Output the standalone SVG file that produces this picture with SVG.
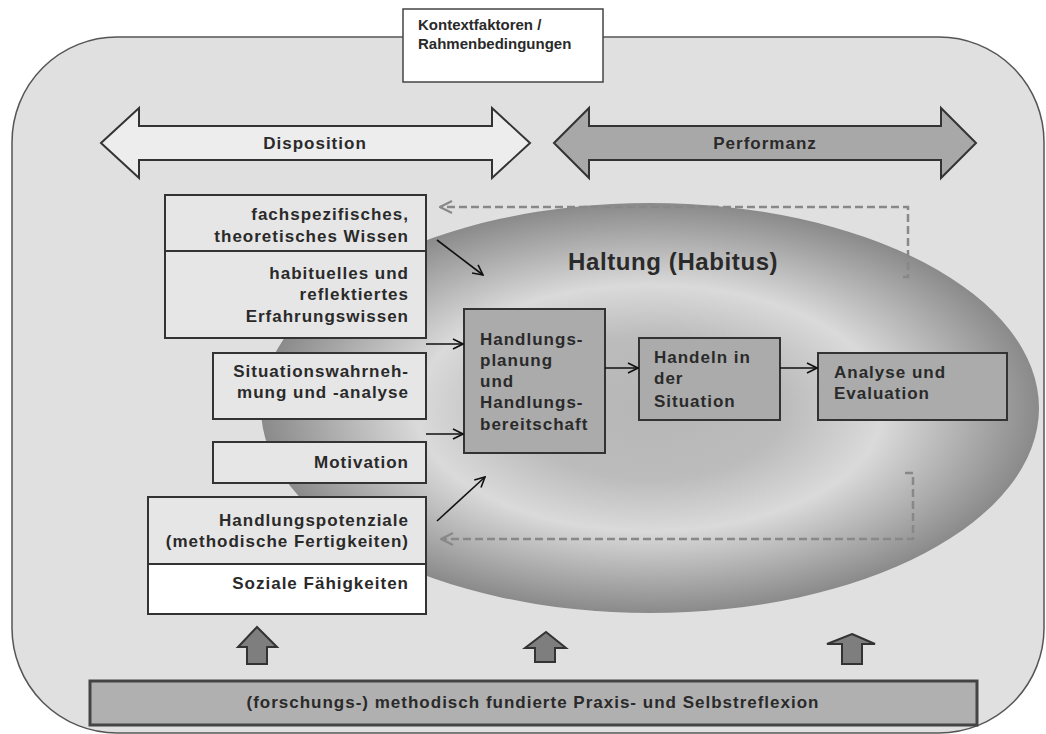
<svg xmlns="http://www.w3.org/2000/svg" width="1046" height="734" viewBox="0 0 1046 734">
<defs>
<radialGradient id="haltung" cx="0.5" cy="0.5" r="0.5">
<stop offset="0" stop-color="#b6b6b6"/>
<stop offset="0.35" stop-color="#bcbcbc"/>
<stop offset="0.6" stop-color="#dadada"/>
<stop offset="0.78" stop-color="#b6b6b6"/>
<stop offset="1" stop-color="#8a8a8a"/>
</radialGradient>
<marker id="chev" viewBox="0 0 12 12" refX="11" refY="6" markerWidth="12" markerHeight="12" markerUnits="userSpaceOnUse" orient="auto">
<path d="M1,1 L11,6 L1,11" fill="none" stroke="#111" stroke-width="1.6"/>
</marker>
<marker id="chevGray" viewBox="0 0 14 14" refX="13" refY="7" markerWidth="14" markerHeight="14" markerUnits="userSpaceOnUse" orient="auto">
<path d="M1,1 L13,7 L1,13" fill="none" stroke="#888" stroke-width="2.2"/>
</marker>
</defs>
<style>
text{font-family:"Liberation Sans",Arial,sans-serif;font-weight:bold;fill:#2a2a2a;}
.lbl{font-size:17px;letter-spacing:1px;}
.box{fill:#e6e6e6;stroke:#333;stroke-width:2;}
.dbox{fill:#ababab;stroke:#333;stroke-width:2;}
.conn{stroke:#111;stroke-width:1.6;fill:none;marker-end:url(#chev);}
.dash{stroke:#888;stroke-width:2.5;fill:none;stroke-dasharray:8 4;}
.up{fill:#7e7e7e;stroke:#333;stroke-width:2;}
</style>

<g id="frame">
<rect x="12" y="37" width="1032" height="696" rx="105" ry="105" fill="#e0e0e0" stroke="#555" stroke-width="1.5"/>
</g>

<g id="kontext">
<rect x="403" y="9" width="200" height="73" fill="#ffffff" stroke="#444" stroke-width="1.5"/>
<text x="418" y="30" font-size="15">Kontextfaktoren /</text>
<text x="418" y="49" font-size="15">Rahmenbedingungen</text>
</g>

<g id="disposition">
<polygon points="101,143 139,108 139,126 492,126 492,108 530,143 492,178 492,160 139,160 139,178" fill="#ededed" stroke="#333" stroke-width="2"/>
<text class="lbl" x="315" y="149" text-anchor="middle">Disposition</text>
</g>

<g id="performanz">
<polygon points="554,143 589,108 589,126 941,126 941,108 976,143 941,178 941,160 589,160 589,178" fill="#a8a8a8" stroke="#333" stroke-width="2"/>
<text class="lbl" x="765" y="149" text-anchor="middle">Performanz</text>
</g>

<g id="haltung">
<ellipse cx="650" cy="408" rx="389" ry="205" fill="url(#haltung)"/>
<text x="568" y="270" font-size="24" letter-spacing="0.6" fill="#333">Haltung (Habitus)</text>
</g>

<g id="fachwissen">
<rect class="box" x="165" y="195" width="261" height="56"/>
<text class="lbl" x="409" y="220" text-anchor="end">fachspezifisches,</text>
<text class="lbl" x="409" y="242" text-anchor="end">theoretisches Wissen</text>
</g>

<g id="erfahrungswissen">
<rect class="box" x="165" y="251" width="261" height="87"/>
<text class="lbl" x="409" y="279" text-anchor="end">habituelles und</text>
<text class="lbl" x="409" y="300" text-anchor="end">reflektiertes</text>
<text class="lbl" x="409" y="322" text-anchor="end">Erfahrungswissen</text>
</g>

<g id="situation">
<rect class="box" x="213" y="353" width="213" height="66"/>
<text class="lbl" x="409" y="377" text-anchor="end">Situationswahrneh-</text>
<text class="lbl" x="409" y="398" text-anchor="end">mung und -analyse</text>
</g>

<g id="motivation">
<rect class="box" x="213" y="442" width="213" height="41"/>
<text class="lbl" x="409" y="468" text-anchor="end">Motivation</text>
</g>

<g id="potenziale">
<rect class="box" x="148" y="497" width="278" height="67"/>
<text class="lbl" x="409" y="526" text-anchor="end">Handlungspotenziale</text>
<text class="lbl" x="409" y="547" text-anchor="end">(methodische Fertigkeiten)</text>
</g>

<g id="sozial">
<rect x="148" y="564" width="278" height="50" fill="#ffffff" stroke="#333" stroke-width="2"/>
<text class="lbl" x="409" y="589" text-anchor="end">Soziale Fähigkeiten</text>
</g>

<g id="planung">
<rect class="dbox" x="464" y="309" width="141" height="144"/>
<text class="lbl" x="480" y="345">Handlungs-</text>
<text class="lbl" x="480" y="366">planung</text>
<text class="lbl" x="480" y="387">und</text>
<text class="lbl" x="480" y="408">Handlungs-</text>
<text class="lbl" x="480" y="430">bereitschaft</text>
</g>

<g id="handeln">
<rect class="dbox" x="639" y="338" width="141" height="82"/>
<text class="lbl" x="654" y="363">Handeln in</text>
<text class="lbl" x="654" y="384">der</text>
<text class="lbl" x="654" y="407">Situation</text>
</g>

<g id="analyse">
<rect class="dbox" x="818" y="353" width="189" height="67"/>
<text class="lbl" x="834" y="378">Analyse und</text>
<text class="lbl" x="834" y="399">Evaluation</text>
</g>

<g id="reflexion">
<rect x="90" y="681" width="887" height="44" fill="#b0b0b0" stroke="#444" stroke-width="3"/>
<text class="lbl" x="533" y="708" text-anchor="middle">(forschungs-) methodisch fundierte Praxis- und Selbstreflexion</text>
</g>

<g id="up-arrows">
<polygon class="up" points="257,627 277,647 267,647 267,664 247,664 247,647 238,647"/>
<polygon class="up" points="546,632 566,648 555,648 555,662 535,662 535,648 525,648"/>
<polygon class="up" points="852,634 875,644 862,644 862,664 842,664 842,644 827,644"/>
</g>

<g id="connectors">
<line class="conn" x1="437" y1="240" x2="483" y2="275"/>
<line class="conn" x1="426" y1="344" x2="463" y2="344"/>
<line class="conn" x1="426" y1="434" x2="463" y2="434"/>
<line class="conn" x1="437" y1="521" x2="485" y2="477"/>
<line class="conn" x1="605" y1="368" x2="638" y2="368"/>
<line class="conn" x1="780" y1="368" x2="817" y2="368"/>
<path class="dash" d="M903,277 L908,277 L908,207 L440,207" marker-end="url(#chevGray)"/>
<path class="dash" d="M905,473 L913,473 L913,539 L441,539" marker-end="url(#chevGray)"/>
</g>
</svg>
